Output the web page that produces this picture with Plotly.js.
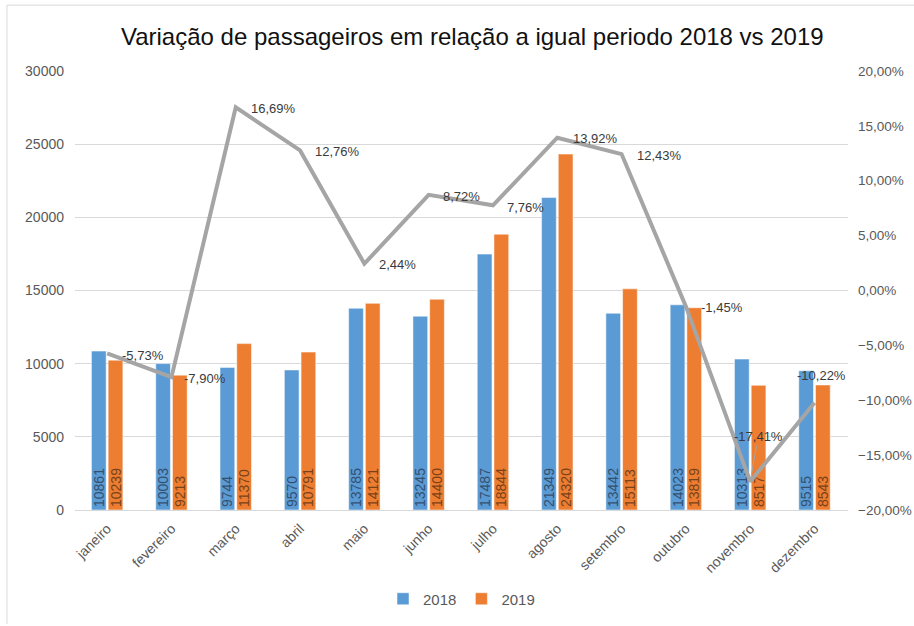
<!DOCTYPE html>
<html>
<head>
<meta charset="utf-8">
<script src="https://cdn.plot.ly/plotly-3.0.1.min.js"></script>
<style>html,body{margin:0;padding:0;background:#fff;}#chart{width:914px;height:626px;}</style>
</head>
<body>
<div id="chart"></div>
<script>
const months = ['janeiro','fevereiro','março','abril','maio','junho','julho','agosto','setembro','outubro','novembro','dezembro'];
const pax2018 = [10861, 10003, 9744, 9570, 13785, 13245, 17487, 21349, 13442, 14023, 10313, 9515];
const pax2019 = [10239, 9213, 11370, 10791, 14121, 14400, 18844, 24320, 15113, 13819, 8517, 8543];
const variation = [-0.0573, -0.0790, 0.1669, 0.1276, 0.0244, 0.0872, 0.0776, 0.1392, 0.1243, -0.0145, -0.1741, -0.1022];
const variationLabels = ['-5,73%','-7,90%','16,69%','12,76%','2,44%','8,72%','7,76%','13,92%','12,43%','-1,45%','-17,41%','-10,22%'];

// label offsets (pixels) – styling only
const labelDX = [36, 34, 38, 37, 33, 33, 33, 38, 38, 36, 8, 7];
const labelDY = [2, 1, 1, 1, 1, 2, 2, 1, 1, 1, -45, -27];
const labelArrow = [false,false,false,false,false,false,false,false,false,false,true,false];

const tickFont = {family: 'Liberation Sans, Arial, sans-serif', size: 14, color: '#595959'};

const traces = [
  {
    type: 'bar', name: '2018', x: months, y: pax2018,
    text: pax2018.map(String), textposition: 'inside', insidetextanchor: 'start',
    textangle: -90, constraintext: 'none',
    textfont: {family: 'Liberation Sans, Arial, sans-serif', size: 14, color: '#34506e'},
    marker: {color: '#5B9BD5', line: {color: '#ffffff', width: 0.5}},
    hoverinfo: 'skip'
  },
  {
    type: 'bar', name: '2019', x: months, y: pax2019,
    text: pax2019.map(String), textposition: 'inside', insidetextanchor: 'start',
    textangle: -90, constraintext: 'none',
    textfont: {family: 'Liberation Sans, Arial, sans-serif', size: 14, color: '#7a4219'},
    marker: {color: '#ED7D31', line: {color: '#ffffff', width: 0.5}},
    hoverinfo: 'skip'
  },
  {
    type: 'scatter', mode: 'lines', name: 'variação', x: months, y: variation,
    yaxis: 'y2', showlegend: false,
    line: {color: '#A5A5A5', width: 4}, hoverinfo: 'skip'
  }
];

const annotations = months.map((m, i) => ({
  x: m, y: variation[i], xref: 'x', yref: 'y2',
  text: variationLabels[i],
  showarrow: true, arrowhead: 0, arrowwidth: 1,
  arrowcolor: labelArrow[i] ? '#A5A5A5' : 'rgba(0,0,0,0)',
  ax: labelDX[i], ay: labelDY[i], standoff: 0,
  font: {family: 'Liberation Sans, Arial, sans-serif', size: 13, color: '#3a3a3a'}
}));

const layout = {
  width: 914, height: 626,
  margin: {l: 75, r: 66, t: 71, b: 115},
  paper_bgcolor: '#ffffff', plot_bgcolor: '#ffffff',
  separators: ',.',
  title: {
    text: 'Variação de passageiros em relação a igual periodo 2018 vs 2019',
    font: {family: 'Liberation Sans, Arial, sans-serif', size: 24, color: '#111111'},
    x: 0.514, xanchor: 'center', xref: 'paper', y: 0.942, yanchor: 'middle'
  },
  barmode: 'group', bargap: 0.48, bargroupgap: 0.12,
  xaxis: {
    tickangle: -45, tickfont: tickFont, showgrid: false,
    showline: true, linecolor: '#d9d9d9', linewidth: 1, ticks: '', fixedrange: true,
    ticklabelstandoff: 4
  },
  yaxis: {
    range: [0, 30000], tickvals: [0, 5000, 10000, 15000, 20000, 25000, 30000],
    tickformat: 'd', tickfont: tickFont, showgrid: true, gridcolor: '#d9d9d9', gridwidth: 1,
    zeroline: false, showline: false, ticks: '', ticklen: 0, fixedrange: true,
    ticklabelstandoff: 10
  },
  yaxis2: {
    overlaying: 'y', side: 'right', range: [-0.2, 0.2],
    tickvals: [-0.2, -0.15, -0.1, -0.05, 0, 0.05, 0.1, 0.15, 0.2],
    tickformat: '.2%', tickfont: {family: 'Liberation Sans, Arial, sans-serif', size: 13.5, color: '#595959'},
    showgrid: false, zeroline: false,
    showline: false, ticks: '', fixedrange: true, ticklabelstandoff: 9
  },
  legend: {
    orientation: 'h', x: 0.5, xanchor: 'center', xref: 'paper', y: -0.2, yanchor: 'middle',
    font: {family: 'Liberation Sans, Arial, sans-serif', size: 15, color: '#595959'},
    itemwidth: 30, traceorder: 'normal'
  },
  annotations: annotations,
  shapes: [
    {type: 'line', xref: 'paper', yref: 'paper', x0: -0.088, x1: 1.09, y0: 1.15, y1: 1.15, line: {color: '#d9d9d9', width: 1}},
    {type: 'line', xref: 'paper', yref: 'paper', x0: -0.088, x1: -0.088, y0: 1.15, y1: -0.26, line: {color: '#d9d9d9', width: 1}}
  ]
};

Plotly.newPlot('chart', traces, layout, {displayModeBar: false, staticPlot: true});
</script>
</body>
</html>
